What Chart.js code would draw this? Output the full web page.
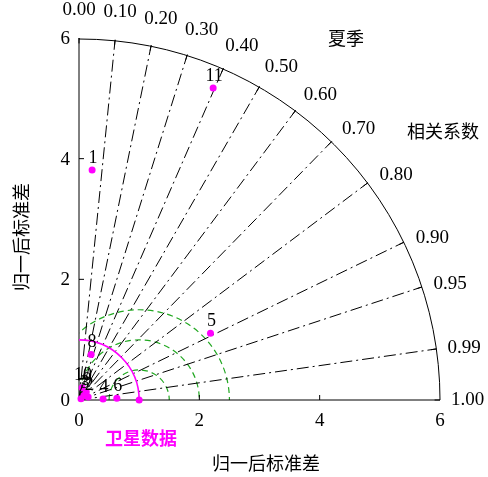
<!DOCTYPE html>
<html>
<head>
<meta charset="utf-8">
<script src="https://cdn.jsdelivr.net/npm/chart.js@4"></script>
<style>
  body { margin: 0; background: #fff; }
</style>
</head>
<body>
<canvas id="taylorChart" width="488" height="477"></canvas>
<script>
// model results (summer): standard deviation (normalised) and correlation
const modelNames = ["1", "2", "3", "4", "5", "6", "7", "8", "9", "10", "11"];
const modelStd = [3.82, 0.16, 0.11, 0.40, 2.45, 0.63, 0.04, 0.78, 0.18, 0.21, 5.63];
const modelCorr = [0.057, 0.95, 0.75, 0.999, 0.892, 0.999, 0.83, 0.258, 0.67, 0.24, 0.396];

const refName = "卫星数据";
const refStd = 1.0;

const corrTicks = [0, 0.1, 0.2, 0.3, 0.4, 0.5, 0.6, 0.7, 0.8, 0.9, 0.95, 0.99, 1.0];
const stdTicks = [0, 2, 4, 6];
const rmsLevels = [0.5, 1.0, 1.5];
const stdMax = 6;

const toXY = (s, r) => ({ x: s * r, y: s * Math.sqrt(Math.max(0, 1 - r * r)) });

const serif = "'Liberation Serif', 'DejaVu Serif', serif";
const cjk = "'Noto Sans CJK SC', sans-serif";

const taylorGrid = {
  id: "taylorGrid",
  beforeDatasetsDraw(chart) {
    const { ctx, scales: { x, y } } = chart;
    const ox = x.getPixelForValue(0), oy = y.getPixelForValue(0);
    const unit = x.getPixelForValue(1) - ox;
    const R = stdMax * unit;

    ctx.save();
    // green RMS circles round the reference point, kept inside the quarter
    ctx.save();
    ctx.beginPath();
    ctx.moveTo(ox, oy);
    ctx.arc(ox, oy, R, -Math.PI / 2, 0);
    ctx.closePath();
    ctx.clip();
    ctx.strokeStyle = "#22a822";
    ctx.lineWidth = 1.2;
    ctx.setLineDash([6, 4]);
    const rx = x.getPixelForValue(refStd);
    rmsLevels.forEach(r => {
      ctx.beginPath();
      ctx.arc(rx, oy, r * unit, Math.PI, 2 * Math.PI);
      ctx.stroke();
    });
    ctx.restore();

    // correlation rays
    ctx.strokeStyle = "#000";
    ctx.lineWidth = 1;
    ctx.setLineDash([12, 4, 2, 4]);
    corrTicks.forEach(c => {
      if (c === 0 || c === 1) return;
      const e = toXY(stdMax, c);
      ctx.beginPath();
      ctx.moveTo(ox, oy);
      ctx.lineTo(x.getPixelForValue(e.x), y.getPixelForValue(e.y));
      ctx.stroke();
    });
    ctx.setLineDash([]);

    // outer arc and axes
    ctx.beginPath();
    ctx.arc(ox, oy, R, -Math.PI / 2, 0);
    ctx.stroke();
    ctx.beginPath();
    ctx.moveTo(ox, y.getPixelForValue(stdMax));
    ctx.lineTo(ox, oy);
    ctx.lineTo(x.getPixelForValue(stdMax), oy);
    ctx.stroke();

    // ticks on the arc
    corrTicks.forEach(c => {
      const a = toXY(stdMax, c), b = toXY(stdMax - 0.09, c);
      ctx.beginPath();
      ctx.moveTo(x.getPixelForValue(a.x), y.getPixelForValue(a.y));
      ctx.lineTo(x.getPixelForValue(b.x), y.getPixelForValue(b.y));
      ctx.stroke();
    });
    // ticks on the axes
    stdTicks.forEach(v => {
      if (v === 0 || v === stdMax) return;
      const py = y.getPixelForValue(v), px = x.getPixelForValue(v);
      ctx.beginPath();
      ctx.moveTo(ox, py); ctx.lineTo(ox + 5, py);
      ctx.moveTo(px, oy); ctx.lineTo(px, oy - 5);
      ctx.stroke();
    });

    // reference std arc
    ctx.strokeStyle = "#ff00ff";
    ctx.lineWidth = 1.6;
    ctx.beginPath();
    ctx.arc(ox, oy, refStd * unit, -Math.PI / 2, 0);
    ctx.stroke();
    ctx.restore();
  },
  afterDatasetsDraw(chart) {
    const { ctx, scales: { x, y } } = chart;
    const ox = x.getPixelForValue(0), oy = y.getPixelForValue(0);
    ctx.save();
    ctx.fillStyle = "#000";

    // std tick labels
    ctx.font = "19px " + serif;
    ctx.textAlign = "right";
    ctx.textBaseline = "middle";
    stdTicks.forEach(v => ctx.fillText(String(v), ox - 9, y.getPixelForValue(v) + 1));
    ctx.textAlign = "center";
    stdTicks.forEach(v => ctx.fillText(String(v), x.getPixelForValue(v), oy + 21));

    // correlation labels
    corrTicks.forEach(c => {
      const a = Math.acos(c);
      const th = a - 0.028 * Math.sin(2 * a);
      const r = 6.46;
      const px = x.getPixelForValue(r * Math.cos(th));
      const py = y.getPixelForValue(r * Math.sin(th));
      ctx.fillText(c.toFixed(2), px, py);
    });

    // point labels
    ctx.font = "18px " + serif;
    ctx.textBaseline = "bottom";
    modelNames.forEach((n, i) => {
      const p = toXY(modelStd[i], modelCorr[i]);
      ctx.fillText(n, x.getPixelForValue(p.x) + 1, y.getPixelForValue(p.y) - 3);
    });

    // titles
    ctx.font = "18px " + cjk;
    ctx.textBaseline = "middle";
    ctx.fillText("夏季", 346, 38);
    ctx.fillText("相关系数", 443, 131);
    ctx.fillText("归一后标准差", 266, 463);
    ctx.fillStyle = "#ff00ff";
    ctx.font = "bold 18px " + cjk;
    ctx.fillText(refName, 141, 438);
    ctx.fillStyle = "#000";
    ctx.font = "18px " + cjk;
    ctx.translate(21, 237);
    ctx.rotate(-Math.PI / 2);
    ctx.fillText("归一后标准差", 0, 0);
    ctx.restore();
  }
};

const ctx = document.getElementById("taylorChart").getContext("2d");
new Chart(ctx, {
  type: "scatter",
  data: {
    datasets: [{
      label: "models",
      data: modelStd.map((s, i) => toXY(s, modelCorr[i])),
      backgroundColor: "#ff00ff",
      borderWidth: 0,
      pointRadius: 3.5,
      clip: false
    }, {
      label: refName,
      data: [toXY(refStd, 1)],
      backgroundColor: "#ff00ff",
      borderWidth: 0,
      pointRadius: 3.5,
      clip: false
    }]
  },
  options: {
    responsive: false,
    animation: false,
    layout: { padding: { left: 79, right: 48, top: 38, bottom: 77 } },
    scales: {
      x: { type: "linear", min: 0, max: stdMax, display: false },
      y: { type: "linear", min: 0, max: stdMax, display: false }
    },
    plugins: { legend: { display: false }, tooltip: { enabled: false } }
  },
  plugins: [taylorGrid]
});
</script>
</body>
</html>
